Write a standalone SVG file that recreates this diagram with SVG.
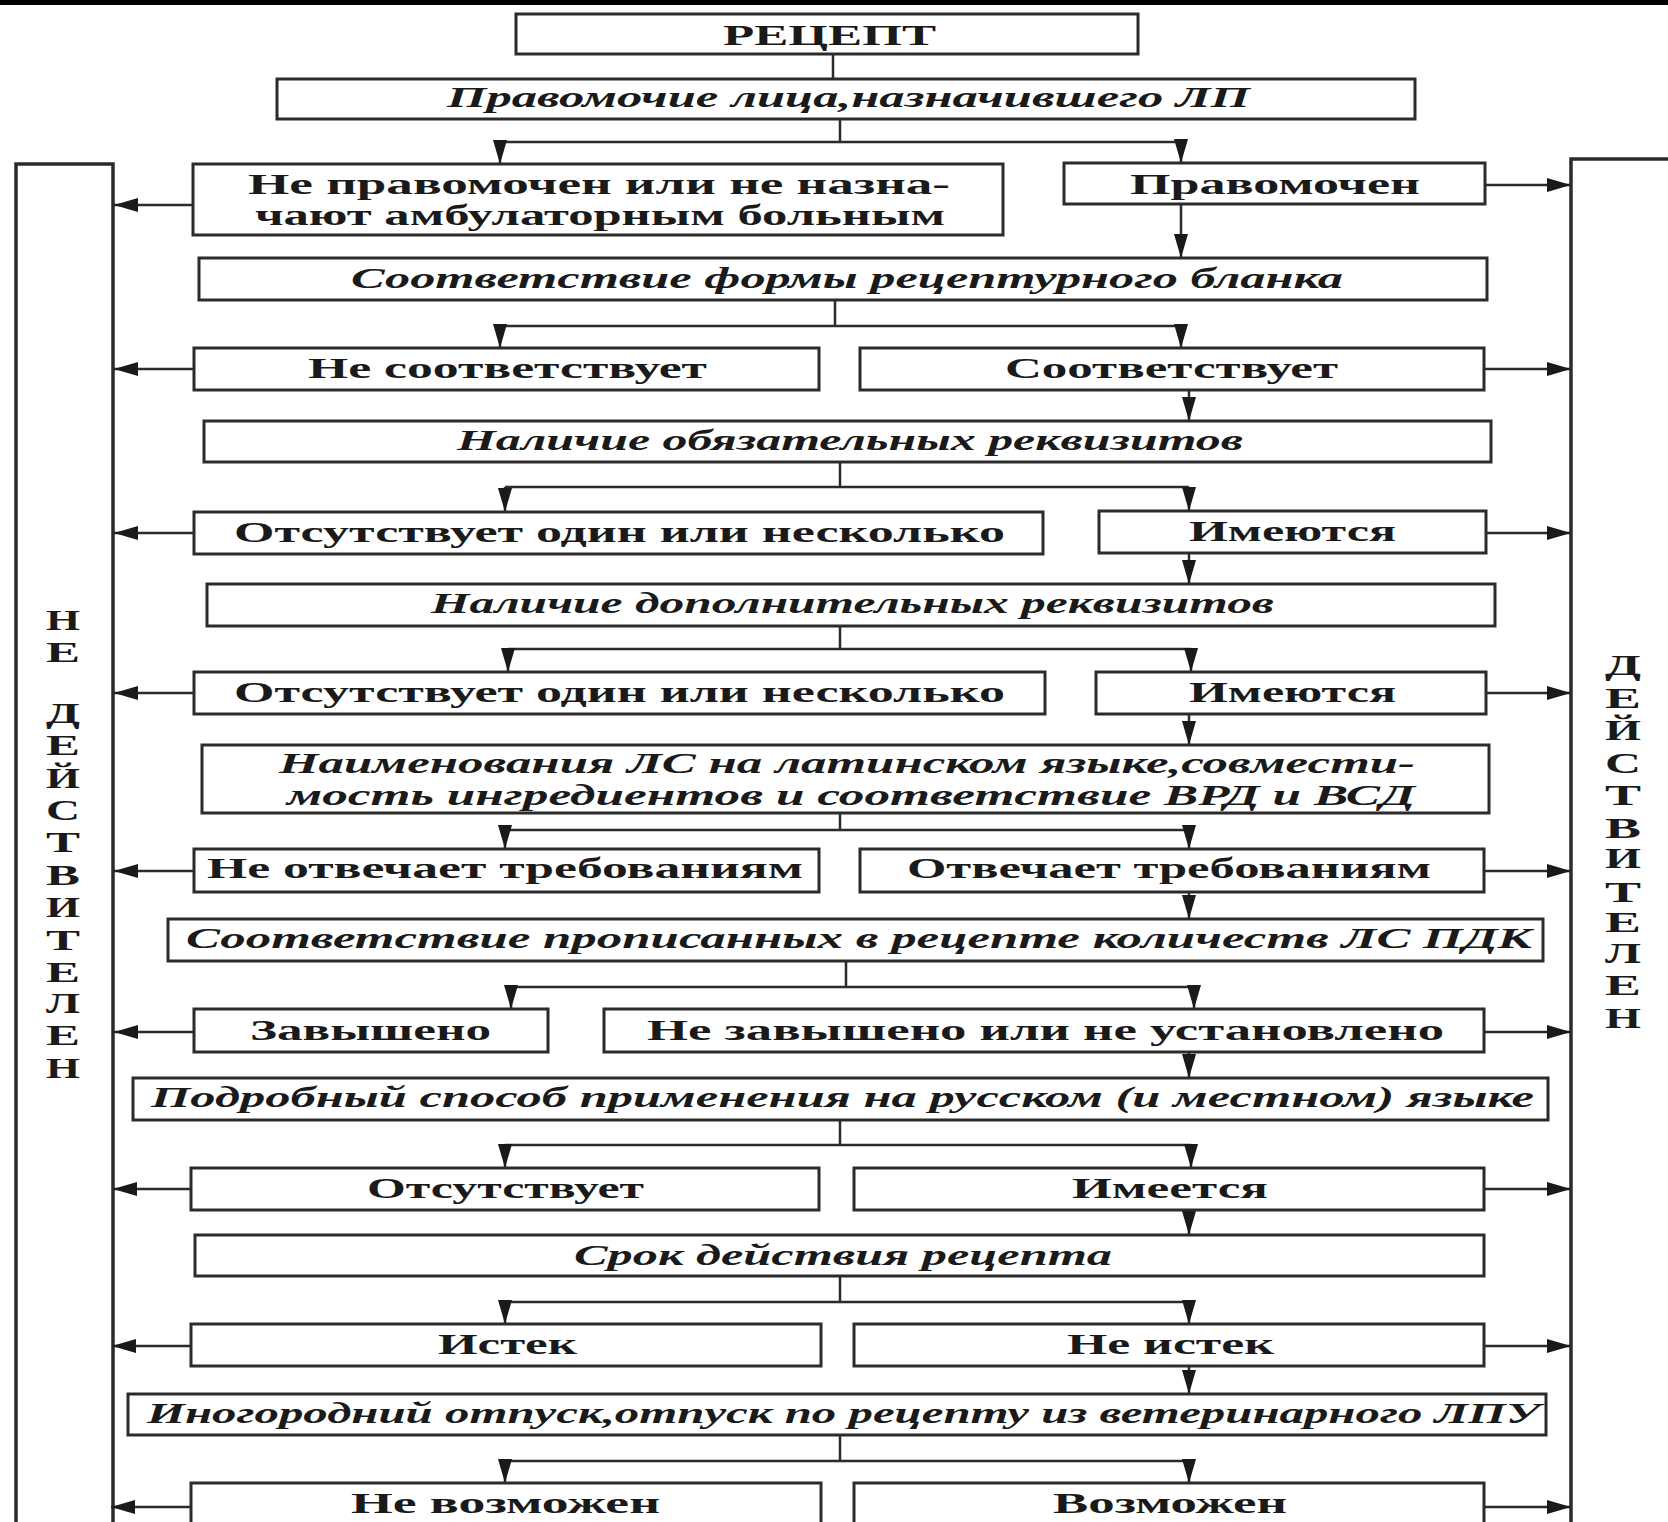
<svg xmlns="http://www.w3.org/2000/svg" width="1668" height="1522" viewBox="0 0 1668 1522">
<style>
.box{fill:#fff;stroke:#2b2b2b;stroke-width:3}
.bar{fill:none;stroke:#2b2b2b;stroke-width:3.5}
.ln{fill:none;stroke:#2b2b2b;stroke-width:2.5}
.t{font-family:"Liberation Serif","Times New Roman",serif;font-weight:bold;font-size:30px;fill:#1a1a1a}
.i{font-style:italic}
.v{font-family:"Liberation Serif","Times New Roman",serif;font-weight:bold;font-size:30px;fill:#1a1a1a}
</style>
<defs>
<marker id="ah" markerUnits="userSpaceOnUse" markerWidth="26" markerHeight="16" refX="24" refY="7" orient="auto">
<path d="M0,0 L24,7 L0,14 Z" fill="#1a1a1a"/>
</marker>
</defs>
<rect x="0" y="0" width="1668" height="1522" fill="#fff"/>
<rect x="0" y="0" width="1668" height="5" fill="#000"/>

<g id="bar-left">
<path class="bar" d="M16,1530 V164 H113 V1530"/>
<text class="v" x="46" y="630" textLength="34" lengthAdjust="spacingAndGlyphs">Н</text>
<text class="v" x="46" y="662" textLength="34" lengthAdjust="spacingAndGlyphs">Е</text>
<text class="v" x="46" y="723" textLength="34" lengthAdjust="spacingAndGlyphs">Д</text>
<text class="v" x="46" y="755" textLength="34" lengthAdjust="spacingAndGlyphs">Е</text>
<text class="v" x="46" y="788" textLength="34" lengthAdjust="spacingAndGlyphs">Й</text>
<text class="v" x="46" y="820" textLength="34" lengthAdjust="spacingAndGlyphs">С</text>
<text class="v" x="46" y="852" textLength="34" lengthAdjust="spacingAndGlyphs">Т</text>
<text class="v" x="46" y="885" textLength="34" lengthAdjust="spacingAndGlyphs">В</text>
<text class="v" x="46" y="917" textLength="34" lengthAdjust="spacingAndGlyphs">И</text>
<text class="v" x="46" y="950" textLength="34" lengthAdjust="spacingAndGlyphs">Т</text>
<text class="v" x="46" y="982" textLength="34" lengthAdjust="spacingAndGlyphs">Е</text>
<text class="v" x="46" y="1013" textLength="34" lengthAdjust="spacingAndGlyphs">Л</text>
<text class="v" x="46" y="1045" textLength="34" lengthAdjust="spacingAndGlyphs">Е</text>
<text class="v" x="46" y="1078" textLength="34" lengthAdjust="spacingAndGlyphs">Н</text>
</g>

<g id="bar-right">
<path class="bar" d="M1571,1530 V159 H1680"/>
<text class="v" x="1605" y="675" textLength="36" lengthAdjust="spacingAndGlyphs">Д</text>
<text class="v" x="1605" y="708" textLength="36" lengthAdjust="spacingAndGlyphs">Е</text>
<text class="v" x="1605" y="740" textLength="36" lengthAdjust="spacingAndGlyphs">Й</text>
<text class="v" x="1605" y="773" textLength="36" lengthAdjust="spacingAndGlyphs">С</text>
<text class="v" x="1605" y="805" textLength="36" lengthAdjust="spacingAndGlyphs">Т</text>
<text class="v" x="1605" y="838" textLength="36" lengthAdjust="spacingAndGlyphs">В</text>
<text class="v" x="1605" y="868" textLength="36" lengthAdjust="spacingAndGlyphs">И</text>
<text class="v" x="1605" y="902" textLength="36" lengthAdjust="spacingAndGlyphs">Т</text>
<text class="v" x="1605" y="932" textLength="36" lengthAdjust="spacingAndGlyphs">Е</text>
<text class="v" x="1605" y="963" textLength="36" lengthAdjust="spacingAndGlyphs">Л</text>
<text class="v" x="1605" y="995" textLength="36" lengthAdjust="spacingAndGlyphs">Е</text>
<text class="v" x="1605" y="1028" textLength="36" lengthAdjust="spacingAndGlyphs">Н</text>
</g>

<g id="connectors">
<path class="ln" d="M833,54 V79"/>
<path class="ln" d="M840,119 V142 M500,142 H1181"/>
<path class="ln" marker-end="url(#ah)" d="M500,142 V164"/>
<path class="ln" marker-end="url(#ah)" d="M1181,142 V163"/>
<path class="ln" marker-end="url(#ah)" d="M193,205 H114"/>
<path class="ln" marker-end="url(#ah)" d="M1485,185 H1571"/>
<path class="ln" marker-end="url(#ah)" d="M1181,204 V258"/>

<path class="ln" d="M835,300 V326 M500,326 H1181"/>
<path class="ln" marker-end="url(#ah)" d="M500,326 V348"/>
<path class="ln" marker-end="url(#ah)" d="M1181,326 V348"/>
<path class="ln" marker-end="url(#ah)" d="M194,369 H114"/>
<path class="ln" marker-end="url(#ah)" d="M1484,369 H1571"/>
<path class="ln" marker-end="url(#ah)" d="M1189,390 V421"/>

<path class="ln" d="M840,462 V487 M505,487 H1189"/>
<path class="ln" marker-end="url(#ah)" d="M505,487 V512"/>
<path class="ln" marker-end="url(#ah)" d="M1189,487 V511"/>
<path class="ln" marker-end="url(#ah)" d="M194,533 H114"/>
<path class="ln" marker-end="url(#ah)" d="M1486,533 H1571"/>
<path class="ln" marker-end="url(#ah)" d="M1189,553 V584"/>

<path class="ln" d="M840,626 V649 M508,649 H1191"/>
<path class="ln" marker-end="url(#ah)" d="M508,649 V672"/>
<path class="ln" marker-end="url(#ah)" d="M1191,649 V672"/>
<path class="ln" marker-end="url(#ah)" d="M194,693 H114"/>
<path class="ln" marker-end="url(#ah)" d="M1486,693 H1571"/>
<path class="ln" marker-end="url(#ah)" d="M1189,714 V745"/>

<path class="ln" d="M840,813 V830 M505,830 H1189"/>
<path class="ln" marker-end="url(#ah)" d="M505,830 V849"/>
<path class="ln" marker-end="url(#ah)" d="M1189,830 V849"/>
<path class="ln" marker-end="url(#ah)" d="M194,871 H114"/>
<path class="ln" marker-end="url(#ah)" d="M1484,871 H1571"/>
<path class="ln" marker-end="url(#ah)" d="M1189,892 V919"/>

<path class="ln" d="M846,961 V987 M511,987 H1194"/>
<path class="ln" marker-end="url(#ah)" d="M511,987 V1009"/>
<path class="ln" marker-end="url(#ah)" d="M1194,987 V1009"/>
<path class="ln" marker-end="url(#ah)" d="M194,1032 H114"/>
<path class="ln" marker-end="url(#ah)" d="M1484,1032 H1571"/>
<path class="ln" marker-end="url(#ah)" d="M1189,1052 V1078"/>

<path class="ln" d="M840,1120 V1145 M505,1145 H1191"/>
<path class="ln" marker-end="url(#ah)" d="M505,1145 V1168"/>
<path class="ln" marker-end="url(#ah)" d="M1191,1145 V1168"/>
<path class="ln" marker-end="url(#ah)" d="M191,1189 H113"/>
<path class="ln" marker-end="url(#ah)" d="M1484,1189 H1571"/>
<path class="ln" marker-end="url(#ah)" d="M1189,1210 V1235"/>

<path class="ln" d="M840,1276 V1302 M505,1302 H1189"/>
<path class="ln" marker-end="url(#ah)" d="M505,1302 V1324"/>
<path class="ln" marker-end="url(#ah)" d="M1189,1302 V1324"/>
<path class="ln" marker-end="url(#ah)" d="M191,1346 H112"/>
<path class="ln" marker-end="url(#ah)" d="M1484,1346 H1571"/>
<path class="ln" marker-end="url(#ah)" d="M1189,1366 V1394"/>

<path class="ln" d="M840,1435 V1461 M505,1461 H1189"/>
<path class="ln" marker-end="url(#ah)" d="M505,1461 V1483"/>
<path class="ln" marker-end="url(#ah)" d="M1189,1461 V1483"/>
<path class="ln" marker-end="url(#ah)" d="M191,1507 H111"/>
<path class="ln" marker-end="url(#ah)" d="M1484,1507 H1571"/>
</g>

<g id="n-recept"><rect class="box" x="516" y="14" width="622" height="40"/><text class="t" x="723" y="45" textLength="213" lengthAdjust="spacingAndGlyphs">РЕЦЕПТ</text></g>
<g id="n-pravomochie"><rect class="box" x="277" y="79" width="1138" height="40"/><text class="t i" x="447" y="107" textLength="803" lengthAdjust="spacingAndGlyphs">Правомочие лица,назначившего ЛП</text></g>
<g id="n-ne-pravomochen"><rect class="box" x="193" y="164" width="810" height="71"/><text class="t" x="248" y="194" textLength="702" lengthAdjust="spacingAndGlyphs">Не правомочен или не назна-</text><text class="t" x="255" y="225" textLength="690" lengthAdjust="spacingAndGlyphs">чают амбулаторным больным</text></g>
<g id="n-pravomochen"><rect class="box" x="1064" y="163" width="421" height="41"/><text class="t" x="1130" y="194" textLength="290" lengthAdjust="spacingAndGlyphs">Правомочен</text></g>
<g id="n-forma"><rect class="box" x="199" y="258" width="1288" height="42"/><text class="t i" x="351" y="288" textLength="992" lengthAdjust="spacingAndGlyphs">Соответствие формы рецептурного бланка</text></g>
<g id="n-ne-sootv"><rect class="box" x="194" y="348" width="625" height="42"/><text class="t" x="308" y="378" textLength="399" lengthAdjust="spacingAndGlyphs">Не соответствует</text></g>
<g id="n-sootv"><rect class="box" x="860" y="348" width="624" height="42"/><text class="t" x="1005" y="378" textLength="333" lengthAdjust="spacingAndGlyphs">Соответствует</text></g>
<g id="n-obyaz"><rect class="box" x="204" y="421" width="1287" height="41"/><text class="t i" x="457" y="450" textLength="786" lengthAdjust="spacingAndGlyphs">Наличие обязательных реквизитов</text></g>
<g id="n-otsut1"><rect class="box" x="194" y="512" width="849" height="42"/><text class="t" x="234" y="542" textLength="771" lengthAdjust="spacingAndGlyphs">Отсутствует один или несколько</text></g>
<g id="n-imeyutsya1"><rect class="box" x="1099" y="511" width="387" height="42"/><text class="t" x="1189" y="541" textLength="207" lengthAdjust="spacingAndGlyphs">Имеются</text></g>
<g id="n-dop"><rect class="box" x="207" y="584" width="1288" height="42"/><text class="t i" x="431" y="613" textLength="843" lengthAdjust="spacingAndGlyphs">Наличие дополнительных реквизитов</text></g>
<g id="n-otsut2"><rect class="box" x="194" y="672" width="851" height="42"/><text class="t" x="234" y="702" textLength="771" lengthAdjust="spacingAndGlyphs">Отсутствует один или несколько</text></g>
<g id="n-imeyutsya2"><rect class="box" x="1096" y="672" width="390" height="42"/><text class="t" x="1189" y="702" textLength="207" lengthAdjust="spacingAndGlyphs">Имеются</text></g>
<g id="n-naimenovaniya"><rect class="box" x="202" y="745" width="1287" height="68"/><text class="t i" x="279" y="773" textLength="1136" lengthAdjust="spacingAndGlyphs">Наименования ЛС на латинском языке,совмести-</text><text class="t i" x="287" y="805" textLength="1128" lengthAdjust="spacingAndGlyphs">мость ингредиентов и соответствие ВРД и ВСД</text></g>
<g id="n-ne-otvechaet"><rect class="box" x="194" y="849" width="625" height="43"/><text class="t" x="207" y="878" textLength="596" lengthAdjust="spacingAndGlyphs">Не отвечает требованиям</text></g>
<g id="n-otvechaet"><rect class="box" x="860" y="849" width="624" height="43"/><text class="t" x="907" y="878" textLength="524" lengthAdjust="spacingAndGlyphs">Отвечает требованиям</text></g>
<g id="n-pdk"><rect class="box" x="168" y="919" width="1375" height="42"/><text class="t i" x="186" y="948" textLength="1346" lengthAdjust="spacingAndGlyphs">Соответствие прописанных в рецепте количеств ЛС ПДК</text></g>
<g id="n-zavysheno"><rect class="box" x="194" y="1009" width="354" height="43"/><text class="t" x="250" y="1040" textLength="241" lengthAdjust="spacingAndGlyphs">Завышено</text></g>
<g id="n-ne-zavysheno"><rect class="box" x="604" y="1009" width="880" height="43"/><text class="t" x="647" y="1040" textLength="797" lengthAdjust="spacingAndGlyphs">Не завышено или не установлено</text></g>
<g id="n-sposob"><rect class="box" x="133" y="1078" width="1415" height="42"/><text class="t i" x="151" y="1107" textLength="1383" lengthAdjust="spacingAndGlyphs">Подробный способ применения на русском (и местном) языке</text></g>
<g id="n-otsutstvuet"><rect class="box" x="191" y="1168" width="628" height="42"/><text class="t" x="367" y="1198" textLength="277" lengthAdjust="spacingAndGlyphs">Отсутствует</text></g>
<g id="n-imeetsya"><rect class="box" x="854" y="1168" width="630" height="42"/><text class="t" x="1072" y="1198" textLength="196" lengthAdjust="spacingAndGlyphs">Имеется</text></g>
<g id="n-srok"><rect class="box" x="195" y="1235" width="1289" height="41"/><text class="t i" x="574" y="1265" textLength="538" lengthAdjust="spacingAndGlyphs">Срок действия рецепта</text></g>
<g id="n-istek"><rect class="box" x="191" y="1324" width="630" height="42"/><text class="t" x="438" y="1354" textLength="139" lengthAdjust="spacingAndGlyphs">Истек</text></g>
<g id="n-ne-istek"><rect class="box" x="854" y="1324" width="630" height="42"/><text class="t" x="1067" y="1354" textLength="207" lengthAdjust="spacingAndGlyphs">Не истек</text></g>
<g id="n-inogorodniy"><rect class="box" x="128" y="1394" width="1418" height="41"/><text class="t i" x="147" y="1423" textLength="1393" lengthAdjust="spacingAndGlyphs">Иногородний отпуск,отпуск по рецепту из ветеринарного ЛПУ</text></g>
<g id="n-ne-vozmozhen"><rect class="box" x="191" y="1483" width="630" height="55"/><text class="t" x="351" y="1513" textLength="309" lengthAdjust="spacingAndGlyphs">Не возможен</text></g>
<g id="n-vozmozhen"><rect class="box" x="854" y="1483" width="630" height="55"/><text class="t" x="1053" y="1513" textLength="234" lengthAdjust="spacingAndGlyphs">Возможен</text></g>
</svg>
